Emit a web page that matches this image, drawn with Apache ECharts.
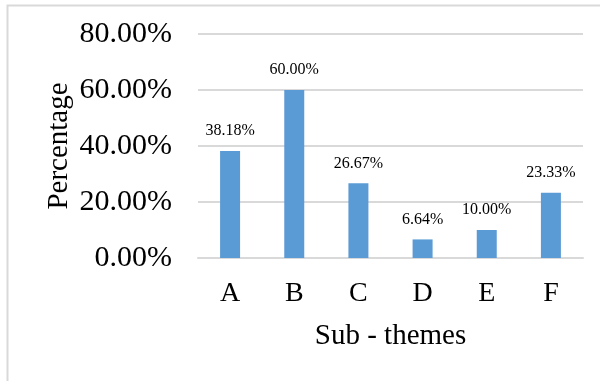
<!DOCTYPE html>
<html>
<head>
<meta charset="utf-8">
<script src="https://cdn.jsdelivr.net/npm/echarts@6/dist/echarts.min.js"></script>
<style>
	html, body { margin: 0; padding: 0; background: #fff; }
	#main { width: 600px; height: 381px; }
</style>
</head>
<body>
<div id="main"></div>
<script>
	// 分类与数值
	let categories = ['A', 'B', 'C', 'D', 'E', 'F'];
	let values = [38.18, 60.00, 26.67, 6.64, 10.00, 23.33];
	let serif = '"Liberation Serif", "Times New Roman", serif';

	let myChart = echarts.init(document.getElementById('main'));
	let option = {
		animation: false,
		graphic: [{
			type: 'rect',
			shape: { x: 7.5, y: 5.5, width: 700, height: 500 },
			style: { fill: 'none', stroke: '#d9d9d9', lineWidth: 2 },
			silent: true
		}],
		grid: {
			left: 198,
			right: 17,
			top: 34,
			bottom: 123
		},
		xAxis: {
			type: 'category',
			data: categories,
			name: 'Sub - themes',
			nameLocation: 'middle',
			nameGap: 64,
			nameTextStyle: { fontFamily: serif, fontSize: 29, color: '#000' },
			axisLine: { lineStyle: { color: '#d9d9d9', width: 2 } },
			axisTick: { show: false },
			axisLabel: { fontFamily: serif, fontSize: 28, color: '#000', margin: 22 }
		},
		yAxis: {
			type: 'value',
			min: 0,
			max: 80,
			interval: 20,
			name: 'Percentage',
			nameLocation: 'middle',
			nameGap: 124,
			nameMoveOverlap: false,
			nameTextStyle: { fontFamily: serif, fontSize: 29, color: '#000' },
			axisLine: { show: false },
			axisTick: { show: false },
			splitLine: { lineStyle: { color: '#d9d9d9', width: 2 } },
			axisLabel: {
				fontFamily: serif,
				fontSize: 30,
				color: '#000',
				margin: 26,
				formatter: v => v.toFixed(2) + '%'
			}
		},
		series: [{
			type: 'bar',
			data: values,
			barWidth: 20,
			itemStyle: { color: '#5b9bd5' },
			label: {
				show: true,
				position: 'top',
				distance: 12,
				fontFamily: serif,
				fontSize: 16,
				color: '#000',
				formatter: p => p.value.toFixed(2) + '%'
			}
		}]
	};
	myChart.setOption(option);
</script>
</body>
</html>
